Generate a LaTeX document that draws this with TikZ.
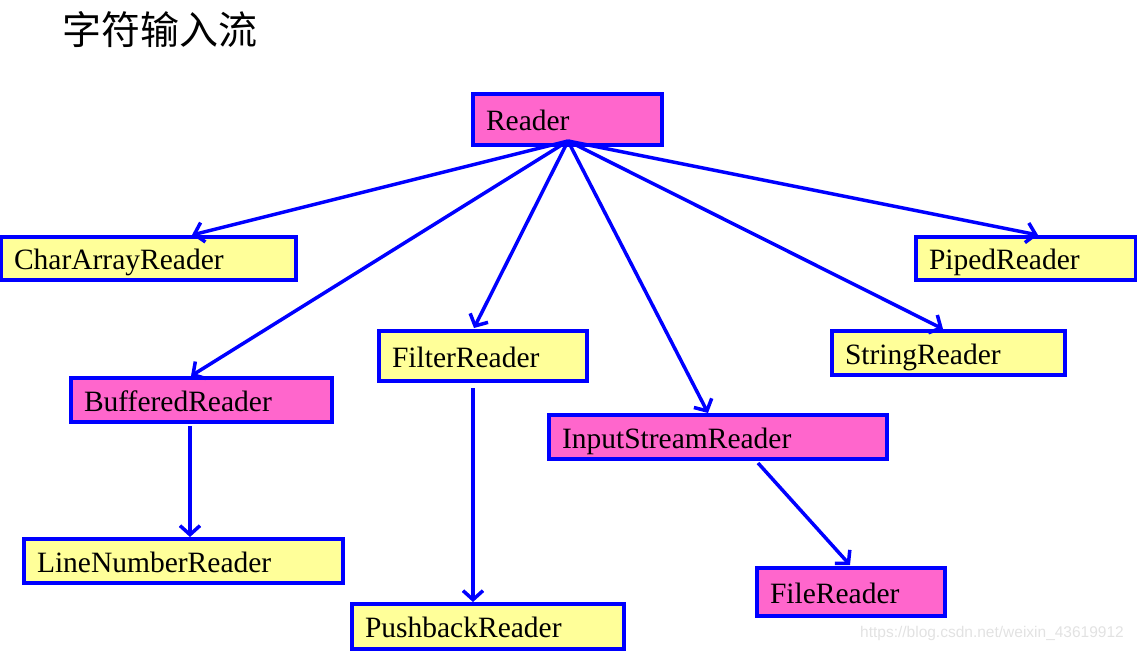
\documentclass[tikz,border=0pt]{standalone}
\usepackage{fontspec}
\setmainfont{Liberation Serif}
\newfontfamily\cjk{Noto Sans CJK SC}
\newfontfamily\wmfont{Liberation Sans}
\usetikzlibrary{arrows.meta,calc}
\definecolor{mag}{HTML}{FF66CC}
\definecolor{yel}{HTML}{FFFF99}
\definecolor{bl}{HTML}{0000FF}
\definecolor{wm}{HTML}{E2E2E2}
\begin{document}
\begin{tikzpicture}[x=1pt,y=-1pt,
  box/.style={draw=bl, line width=3.5pt, outer sep=0pt, inner xsep=13pt, inner ysep=0pt, align=left,
    anchor=north west, font=\fontsize{29.5}{32}\selectfont, text height=28pt, text depth=6pt},
  ybox/.style={box, fill=yel},
  mbox/.style={box, fill=mag},
  arr/.style={draw=bl, line width=3.5pt, -{Straight Barb[length=9pt,width=20pt,line width=3.5pt]}}]
\useasboundingbox (0,0) rectangle (1137,651);
\node[anchor=west, font=\cjk\fontsize{39}{42}\selectfont, inner sep=0pt] (title) at (62,30) {字符输入流};
\node[mbox, minimum width=189pt, minimum height=51pt, text width=163pt] (reader) at (473,94) {Reader};
\node[ybox, minimum width=295pt, minimum height=43pt, text width=269pt] (car) at (1,237) {CharArrayReader};
\node[ybox, minimum width=220pt, minimum height=43pt, text width=194pt] (piped) at (916,237) {PipedReader};
\node[ybox, minimum width=208pt, minimum height=50pt, text width=182pt] (filter) at (379,331) {FilterReader};
\node[ybox, minimum width=233pt, minimum height=44pt, text width=207pt] (string) at (832,331) {StringReader};
\node[mbox, minimum width=261pt, minimum height=44pt, text width=235pt] (buffered) at (71,378) {BufferedReader};
\node[mbox, minimum width=338pt, minimum height=44pt, text width=312pt] (isr) at (549,415) {InputStreamReader};
\node[ybox, minimum width=319pt, minimum height=44pt, text width=293pt] (lnr) at (24,539) {LineNumberReader};
\node[ybox, minimum width=272pt, minimum height=45pt, text width=246pt] (push) at (352,604) {PushbackReader};
\node[mbox, minimum width=188pt, minimum height=48pt, text width=162pt] (file) at (757,568) {FileReader};
\coordinate (r) at ($(reader.south)+(0.5,-4)$);
\draw[arr] (r) -- ($(car.north west)+(191,-2)$);
\draw[arr] (r) -- ($(buffered.north west)+(120,-2)$);
\draw[arr] (r) -- ($(filter.north west)+(95,-3)$);
\draw[arr] (r) -- ($(isr.north west)+(159,-2)$);
\draw[arr] (r) -- ($(string.north west)+(111,-2)$);
\draw[arr] (r) -- ($(piped.north west)+(122,-2)$);
\draw[arr] ($(buffered.south west)+(119,4)$) -- ($(lnr.north west)+(166,-2)$);
\draw[arr] ($(filter.south west)+(94,7)$) -- ($(push.north west)+(121,-2)$);
\draw[arr] ($(isr.south west)+(209,4)$) -- ($(file.north west)+(93,-3)$);
\node[anchor=center, font=\wmfont\fontsize{15.5}{17}\selectfont, text=wm, inner sep=0pt] (wmk) at (992,633) {https://blog.csdn.net/weixin\_43619912};
\end{tikzpicture}
\end{document}
